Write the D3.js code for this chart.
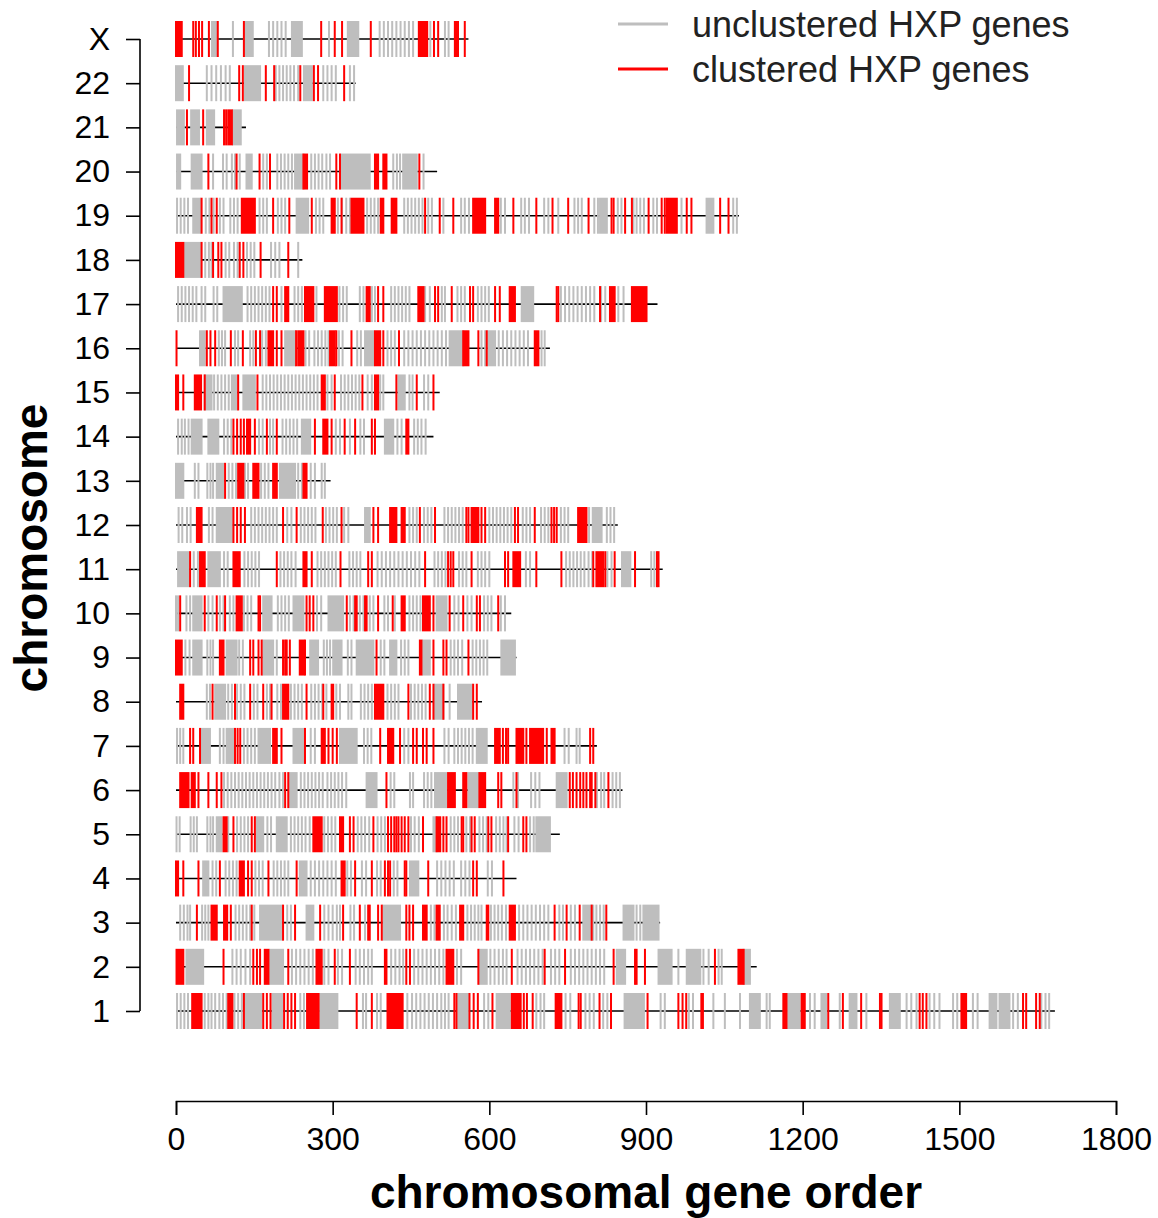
<!DOCTYPE html>
<html>
<head>
<meta charset="utf-8">
<script src="https://cdn.jsdelivr.net/npm/d3@7"></script>
<style>
  body { margin: 0; background: #fff; }
  text { font-family: 'Liberation Sans', Arial, sans-serif; }
</style>
</head>
<body>
<svg id="chart" width="1158" height="1218"></svg>
<script>
// chromosomes, bottom to top
const chromosomes = ['1', '2', '3', '4', '5', '6', '7', '8', '9', '10', '11', '12',
  '13', '14', '15', '16', '17', '18', '19', '20', '21', '22', 'X']

// number of genes on each chromosome (end of the black line)
const geneCounts = [1683, 1112, 927, 652, 735, 855, 806, 586, 652, 642, 932, 846,
  296, 493, 505, 716, 922, 242, 1078, 500, 134, 344, 560]

// positions of unclustered HXP genes; [a, b] is a run of neighbouring genes
const unclustered = [
  // 1
  [2, 9, 16, 23, 55, 62, 68, 75, 83, 90, 97, 112, 119, 126, [132, 163], [185, 203], 238, 245,
    [276, 309], 358, 364, 385, 392, 443, 452, 460, 468, 476, 484, 492, 500, 508, 515, 522,
    [540, 559], 590, 598, [614, 639], 690, 698, 705, 746, 755, 784, 792, 800, 818, 826,
    [859, 896], 928, 936, 982, 990, 1029, 1051, 1080, [1099, 1118], 1131, 1137, [1172, 1194],
    1214, 1223, [1236, 1245], 1271, [1290, 1303], 1322, [1367, 1386], 1399, 1408, 1418,
    1443, 1452, 1462, 1488, 1496, 1526, 1535, [1558, 1571], [1577, 1596], 1603, 1612,
    1657, 1665, 1672],
  // 2
  [[20, 52], 108, 116, 124, 133, 142, [180, 205], 222, 230, 238, 246, 254, 262, 284, 292,
    310, 318, 344, 352, 360, 368, 375, 412, 420, 428, 435, 456, 464, 472, 480, 488, 496,
    504, 512, 538, 546, [582, 595], 602, 610, 618, 626, 633, 654, 662, 670, 678, 686, 694,
    702, 718, 726, 734, 756, 764, 772, 780, 788, 796, 804, 812, 820, [844, 860], [924, 949],
    962, [978, 1004], 1010, 1020, 1039, 1045, [1087, 1099]],
  // 3
  [8, 15, 22, 27, 50, 56, 62, 114, 121, 128, 135, 142, 150, [161, 202], 213, 220, [250, 263],
    284, 292, 300, 308, 314, 334, 341, 362, [397, 429], 488, 495, 513, 520, 528, 536, 558,
    565, 572, 579, 585, 603, 610, 617, 624, 632, 657, 665, 673, 681, 689, 697, 705, 713,
    734, 741, 756, 764, [780, 799], 805, 812, 819, [857, 876], 882, 889, [895, 924]],
  // 4
  [[52, 62], 70, 77, 95, 102, 109, 116, 152, 159, 166, 187, 194, 201, 208, 215, [237, 250],
    258, 266, 274, 282, 290, 298, 306, 328, 335, 356, 364, 385, 392, 417, 424, [448, 464],
    500, 508, 516, 524, 532, 546, 554, 562, 597, 605],
  // 5
  [1, 7, 28, 34, 40, 60, 66, 71, [78, 87], 100, 117, 124, 131, 138, [154, 167], 175, 182,
    [193, 212], 220, 227, 234, 241, 248, 256, 284, 291, 298, 305, 348, 355, 362, 370, 386,
    393, 400, 450, 457, 465, [493, 499], 526, 533, 540, 556, 563, 581, 588, 595, 613, 620,
    627, 633, 648, 656, 678, 685, [690, 716]],
  // 6
  [92, 99, 106, 113, 120, 127, 134, 141, 148, 155, 162, 169, 176, 183, 190, 198, 205,
    [218, 231], 239, 246, 253, 260, 267, 274, 281, 290, 297, 304, 311, 318, 326, [365, 384],
    411, 418, 448, 454, 475, 482, 489, 496, [499, 518], [560, 579], 646, 655, 680, 688, 696,
    [729, 748], 806, 814, 820, 836, 843, 850],
  // 7
  [2, 8, 14, [49, 65], 84, 91, [97, 110], 130, 137, 144, 151, [158, 180], [225, 244], 258,
    266, [314, 346], 360, 367, 374, 437, 445, 514, 522, 533, 540, 547, 554, 561, 568,
    [576, 595], 744, 752, 767, 773],
  // 8
  [59, 65, [75, 94], 100, 107, 117, 124, 131, 149, 156, 174, 180, 194, 201, 220, 227, 234,
    241, 259, 266, 273, 280, 288, 307, 314, 330, 336, 354, 361, 368, 375, 405, 412, 419,
    426, 450, 457, 464, 471, 478, [496, 512], 524, [540, 566]],
  // 9
  [18, 26, [33, 49], 60, 66, 71, [97, 116], 121, 128, [167, 186], 193, [257, 272], 283, 289,
    295, [301, 317], 329, 336, [346, 378], 392, 399, [410, 422], 431, 438, 445, [473, 486],
    526, 533, 540, 548, 568, 575, 582, 589, 596, [623, 649]],
  // 10
  [0, 4, 20, 27, [33, 49], 62, 70, 84, 91, 103, 110, 130, 137, 144, [167, 183], 195, 202,
    209, 216, [225, 244], 270, 278, [292, 320], 333, 340, 352, 359, 371, 378, 399, 406, 419,
    447, 454, 461, 468, [499, 518], 533, 541, 558, 566, 590, 597, 604, 622, 630],
  // 11
  [[4, 24], 34, 42, [62, 84], 92, 99, 131, 138, 145, 152, 159, 200, 207, 214, 221, 229,
    271, 278, 285, 292, 299, 306, 332, 339, 346, 353, 386, 394, 402, 410, 418, 426, 434,
    442, 450, 458, 466, 495, 502, 509, 516, 542, 549, 556, 578, 585, 592, 600, 670, 678,
    747, 754, 761, 768, 775, 782, 790, 797, 826, 834, [854, 870], 910, 916],
  // 12
  [5, 12, 21, 28, 63, 70, [78, 107], 144, 151, 158, 165, 172, 179, 186, 193, 213, 221, 239,
    246, 253, 260, 267, 287, 294, 301, 308, 322, 330, [362, 371], 447, 454, 461, 475, 482,
    489, 514, 521, 528, 535, 542, 549, 600, 607, 614, 621, 628, 635, 642, 664, 671, 678,
    699, 706, 713, 737, 744, 751, 791, [798, 815], 825, 832, 839],
  // 13
  [[0, 14], 36, 43, 60, 66, 71, [78, 91], 101, 108, 115, 132, 138, 163, 170, 177, [199, 228],
    234, 241, 258, 266, 279, 285],
  // 14
  [4, 11, 17, 24, [30, 49], [62, 81], 92, 99, 106, 159, 166, 180, 186, 204, 211, 218, 225,
    232, [241, 257], 306, 314, 333, 353, 360, [400, 416], 424, 432, 456, 463, 470, 478],
  // 15
  [[55, 68], 73, 80, 87, 94, 101, [107, 116], [129, 151], 166, 173, 180, 187, 194, 201, 208,
    215, 222, 229, 236, 243, 250, 257, 264, 271, 290, 298, 316, 323, 330, 337, 344, 351,
    367, 375, 391, 397, [426, 438], 447, 453, 475, 483],
  // 16
  [[46, 55], 82, 88, 94, 113, 119, 142, 148, 165, 172, [209, 228], 248, 255, 265, 272, 279,
    286, 292, 312, 319, 347, 354, [362, 378], 405, 412, 419, 437, 445, 453, 461, 469, 477,
    485, 493, 501, 509, 517, [524, 550], 585, 592, [598, 611], 618, 626, 634, 642, 650, 658,
    666, 674, 700, 706],
  // 17
  [4, 11, 18, 25, 32, 39, 49, 56, 72, 79, [91, 126], 137, 144, 151, 158, 165, 172, 179, 202,
    227, 234, 241, 269, 313, 320, 327, 352, 359, 375, 381, 412, 419, 426, 433, 440, 447,
    477, 486, 509, 515, 539, 546, 553, 578, 585, 592, 599, [662, 684], 737, 745, 753, 761,
    769, 777, 785, 793, 801, 814, 822, 847, 857],
  // 18
  [[17, 46], 56, 63, 68, 95, 102, 111, 118, 136, 143, 150, 182, 190, 198, 234],
  // 19
  [2, 9, 16, 23, [33, 46], 57, 64, 72, 84, 91, 104, 111, 118, 160, 167, 174, 195, 202, 209,
    [231, 253], 268, 275, 282, 310, 318, 326, 333, 366, 373, 380, 387, 437, 444, 451, 458,
    465, 472, 483, 490, 512, 546, 553, 561, 622, 630, 661, 668, 676, 705, 713, 732, 763,
    770, 777, 801, 808, [812, 825], 846, 853, 876, 882, 889, 896, 914, 921, 968,
    [1016, 1029], 1067, 1074],
  // 20
  [[2, 8], [30, 49], 71, 90, 97, 107, 113, 122, [135, 145], 167, 174, 194, 201, 208, 215,
    222, [228, 244], 259, 266, 273, 280, 288, 295, [317, 371], 416, 423, 429, [435, 461], 474],
  // 21
  [[2, 15], [29, 44], [59, 73], [109, 124]],
  // 22
  [[0, 13], 59, 68, 77, 86, 95, 103, [132, 161], 191, 198, 205, 212, 219, 226, 234,
    [245, 260], 282, 290, 298, 306, 333, 341],
  // X
  [[69, 78], 109, [132, 147], 178, 186, 194, 202, 210, [222, 241], 293, [329, 349], 390, 398,
    406, 414, 422, 430, 438, 446, 454, 487, 515, 522]
]

// positions of clustered HXP genes; [a, b] is a run of neighbouring genes
const clustered = [
  // 1
  [[31, 49], [100, 108], 130, 167, 174, 181, 207, 214, 221, 228, [251, 273], 346, 375,
    [405, 434], 533, 537, 562, 570, 578, 606, [643, 660], 666, 672, 683, [727, 738], 771,
    775, 811, 833, 903, 962, 970, 977, 1006, 1009, [1163, 1169], [1198, 1204], 1249, 1277,
    1312, 1348, 1351, 1424, 1430, 1437, [1504, 1513], 1622, 1628, 1647, 1654],
  // 2
  [[1, 14], 91, 148, 155, 161, [170, 177], 215, [269, 279], 304, 333, [400, 403], 441, 448,
    [518, 531], 579, 643, 706, 745, 838, 879, 882, 898, 1032, [1077, 1087]],
  // 3
  [40, [68, 78], [92, 98], 105, 145, 205, 228, 276, 320, 352, 368, 371, 387, 394, 441, 447,
    454, [473, 480], [499, 505], [544, 550], [595, 598], [639, 649], 725, 748, 773, 796, 824],
  // 4
  [[0, 4], 14, 43, 84, [122, 130], 138, 145, 177, 231, [317, 323], 343, 375, 400, 406, 410,
    438, 441, 483, 569, 576, 627],
  // 5
  [[91, 97], 110, 145, 151, [263, 279], [314, 320], 333, 340, 378, 406, 412, 418, 422, 426,
    432, 438, 445, 473, [499, 506], 512, 518, 547, 550, 566, 572, 598, 604, 636, 665, 671],
  // 6
  [[8, 24], [30, 36], 43, 62, 78, 87, 209, 215, 403, [521, 534], [550, 556], [581, 592], 617,
    623, 652, 754, 760, 767, 774, 780, 786, 793, 796, 803, 828],
  // 7
  [27, 33, 46, 113, 118, 123, [186, 193], 202, 247, [279, 285], 292, 300, 308, 391,
    [406, 416], 429, 454, 461, 473, 480, 493, [611, 620], 626, 632, 636, [652, 665], 671,
    [678, 703], 710, [719, 725], 793, 799],
  // 8
  [[8, 14], 70, 113, 142, 167, 183, [205, 215], 250, 282, [298, 301], [381, 397], 445, 486,
    493, 512, 569, 576],
  // 9
  [[0, 11], [84, 91], 142, 148, 158, 164, 205, 209, 212, 218, [237, 244], 247, 384,
    [467, 470], 493, 512, 518, 560],
  // 10
  [8, 55, 78, 94, [116, 126], 158, 161, 250, 256, 263, 327, 343, 346, 362, 365, 387, 415,
    [432, 438], [473, 486], 493, 524, 550, 576, 582, 617],
  // 11
  [27, [46, 55], [110, 122], 193, [244, 250], 260, 315, 368, 375, 477, 521, 526, 531, 566,
    630, 636, [646, 659], 690, 738, 799, [805, 818], 822, 840, 879, 921, 924],
  // 12
  [[40, 49], 110, 117, 124, 132, 205, 231, 281, 317, 378, 387, [410, 422], [432, 438], 467,
    496, 556, 560, [566, 579], 585, 592, 649, 655, 687, 719, 724, 729, [770, 786]],
  // 13
  [94, [119, 129], [148, 158], [186, 193], [244, 250]],
  // 14
  [110, 117, 124, 130, [136, 142], 151, 174, 193, 266, [282, 290], 298, 323, 343, 375, 381,
    [441, 445]],
  // 15
  [[0, 4], 14, [36, 48], 55, 119, 156, [279, 285], 304, 357, [381, 387], 422, 461, 493],
  // 16
  [1, 59, 66, 75, 105, 128, 153, 161, [177, 186], 193, 202, 230, [234, 244], [295, 304], 307,
    336, [381, 391], 397, 427, [550, 560], 579, 595, [687, 694]],
  // 17
  [186, 193, [209, 215], [247, 263], [285, 308], [365, 371], 387, 397, [464, 474], 496, 502,
    528, 563, 569, 611, 620, [639, 649], 729, 732, 812, [831, 840], [873, 901]],
  // 18
  [[0, 14], 49, 71, 81, 87, 122, 129, 162, 215],
  // 19
  [49, 68, 78, [126, 151], 186, 217, 260, [298, 304], 317, [336, 359], [392, 397], [413, 422],
    477, 505, 531, [569, 592], [611, 617], 646, 690, 721, 751, 790, 834, 838, 860, 873, 905,
    930, 936, [940, 959], 978, 987, 1042, 1058],
  // 20
  [62, 116, 160, 180, [244, 251], 307, 314, [381, 387], [397, 403], 466],
  // 21
  [21, 52, 92, 96, [100, 107]],
  // 22
  [25, 121, 128, 172, 188, 238, 264, 272, 322],
  // X
  [[0, 11], 33, 38, 44, 50, 63, 80, 130, 278, 304, 318, 373, [465, 481], 494, 502,
    [534, 540], 553]
]

const xTicks = [0, 300, 600, 900, 1200, 1500, 1800]

const legendItems = [
  { label: 'unclustered HXP genes', color: '#bebebe' },
  { label: 'clustered HXP genes', color: '#ff0000' }
]

const svg = d3.select('#chart')

const x = d3.scaleLinear().domain([0, 1800]).range([176, 1116])
const y = d3.scalePoint().domain(chromosomes).range([1011, 39])

const tickHeight = 36
const minWidth = 2

/**
 * Draws one kind of gene marks on every chromosome
 *
 * @param {*} g the group to draw in
 * @param {Array} positions the gene positions, one list per chromosome
 * @param {string} color the fill of the marks
 */
function drawGenes (g, positions, color) {
  const marks = []
  positions.forEach((list, i) => {
    list.forEach(p => {
      const run = Array.isArray(p) ? p : [p, p]
      marks.push({ chr: chromosomes[i], a: run[0], b: run[1] })
    })
  })

  g.selectAll('rect')
    .data(marks)
    .join('rect')
    .attr('x', d => x(d.a) - minWidth / 2)
    .attr('width', d => Math.max(x(d.b) - x(d.a) + minWidth, minWidth))
    .attr('y', d => y(d.chr) - tickHeight / 2)
    .attr('height', tickHeight)
    .attr('fill', color)
}

// black line for each chromosome
svg.append('g')
  .selectAll('line')
  .data(chromosomes)
  .join('line')
  .attr('x1', x(0))
  .attr('x2', (d, i) => x(geneCounts[i]))
  .attr('y1', d => y(d))
  .attr('y2', d => y(d))
  .attr('stroke', '#000')
  .attr('stroke-width', 1.6)

drawGenes(svg.append('g'), unclustered, legendItems[0].color)
drawGenes(svg.append('g'), clustered, legendItems[1].color)

// x axis
const xAxis = svg.append('g')
  .attr('transform', 'translate(0, 1101)')
  .call(d3.axisBottom(x).tickValues(xTicks).tickSize(14).tickPadding(12).tickFormat(d3.format('d')))

xAxis.select('.domain').attr('stroke', '#000').attr('stroke-width', 1.6)
xAxis.selectAll('.tick line').attr('stroke-width', 1.6)
xAxis.selectAll('.tick text')
  .attr('font-size', '32px')
  .attr('font-family', "'Liberation Sans', Arial, sans-serif")
  .attr('fill', '#000')

// y axis
const yAxis = svg.append('g')
  .attr('transform', 'translate(140, 0)')
  .call(d3.axisLeft(y).tickSize(14).tickPadding(16))

yAxis.select('.domain').attr('d', `M0,${y('1')}V${y('X')}`).attr('stroke-width', 1.6)
yAxis.selectAll('.tick line').attr('stroke-width', 1.6)
yAxis.selectAll('.tick text')
  .attr('font-size', '32px')
  .attr('font-family', "'Liberation Sans', Arial, sans-serif")
  .attr('fill', '#000')

// axis titles
svg.append('text')
  .attr('x', 646)
  .attr('y', 1208)
  .attr('text-anchor', 'middle')
  .attr('font-size', '46px')
  .attr('font-weight', 'bold')
  .text('chromosomal gene order')

svg.append('text')
  .attr('transform', 'translate(47, 548) rotate(-90)')
  .attr('text-anchor', 'middle')
  .attr('font-size', '46px')
  .attr('font-weight', 'bold')
  .text('chromosome')

// legend
const legend = svg.append('g')
  .attr('transform', 'translate(618, 24)')

legendItems.forEach((item, i) => {
  const row = legend.append('g').attr('transform', `translate(0, ${i * 45})`)
  row.append('line')
    .attr('x1', 0)
    .attr('x2', 50)
    .attr('stroke', item.color)
    .attr('stroke-width', 3)
  row.append('text')
    .attr('x', 74)
    .attr('dy', '0.35em')
    .attr('font-size', '36px')
    .attr('fill', '#222')
    .text(item.label)
})
</script>
</body>
</html>
